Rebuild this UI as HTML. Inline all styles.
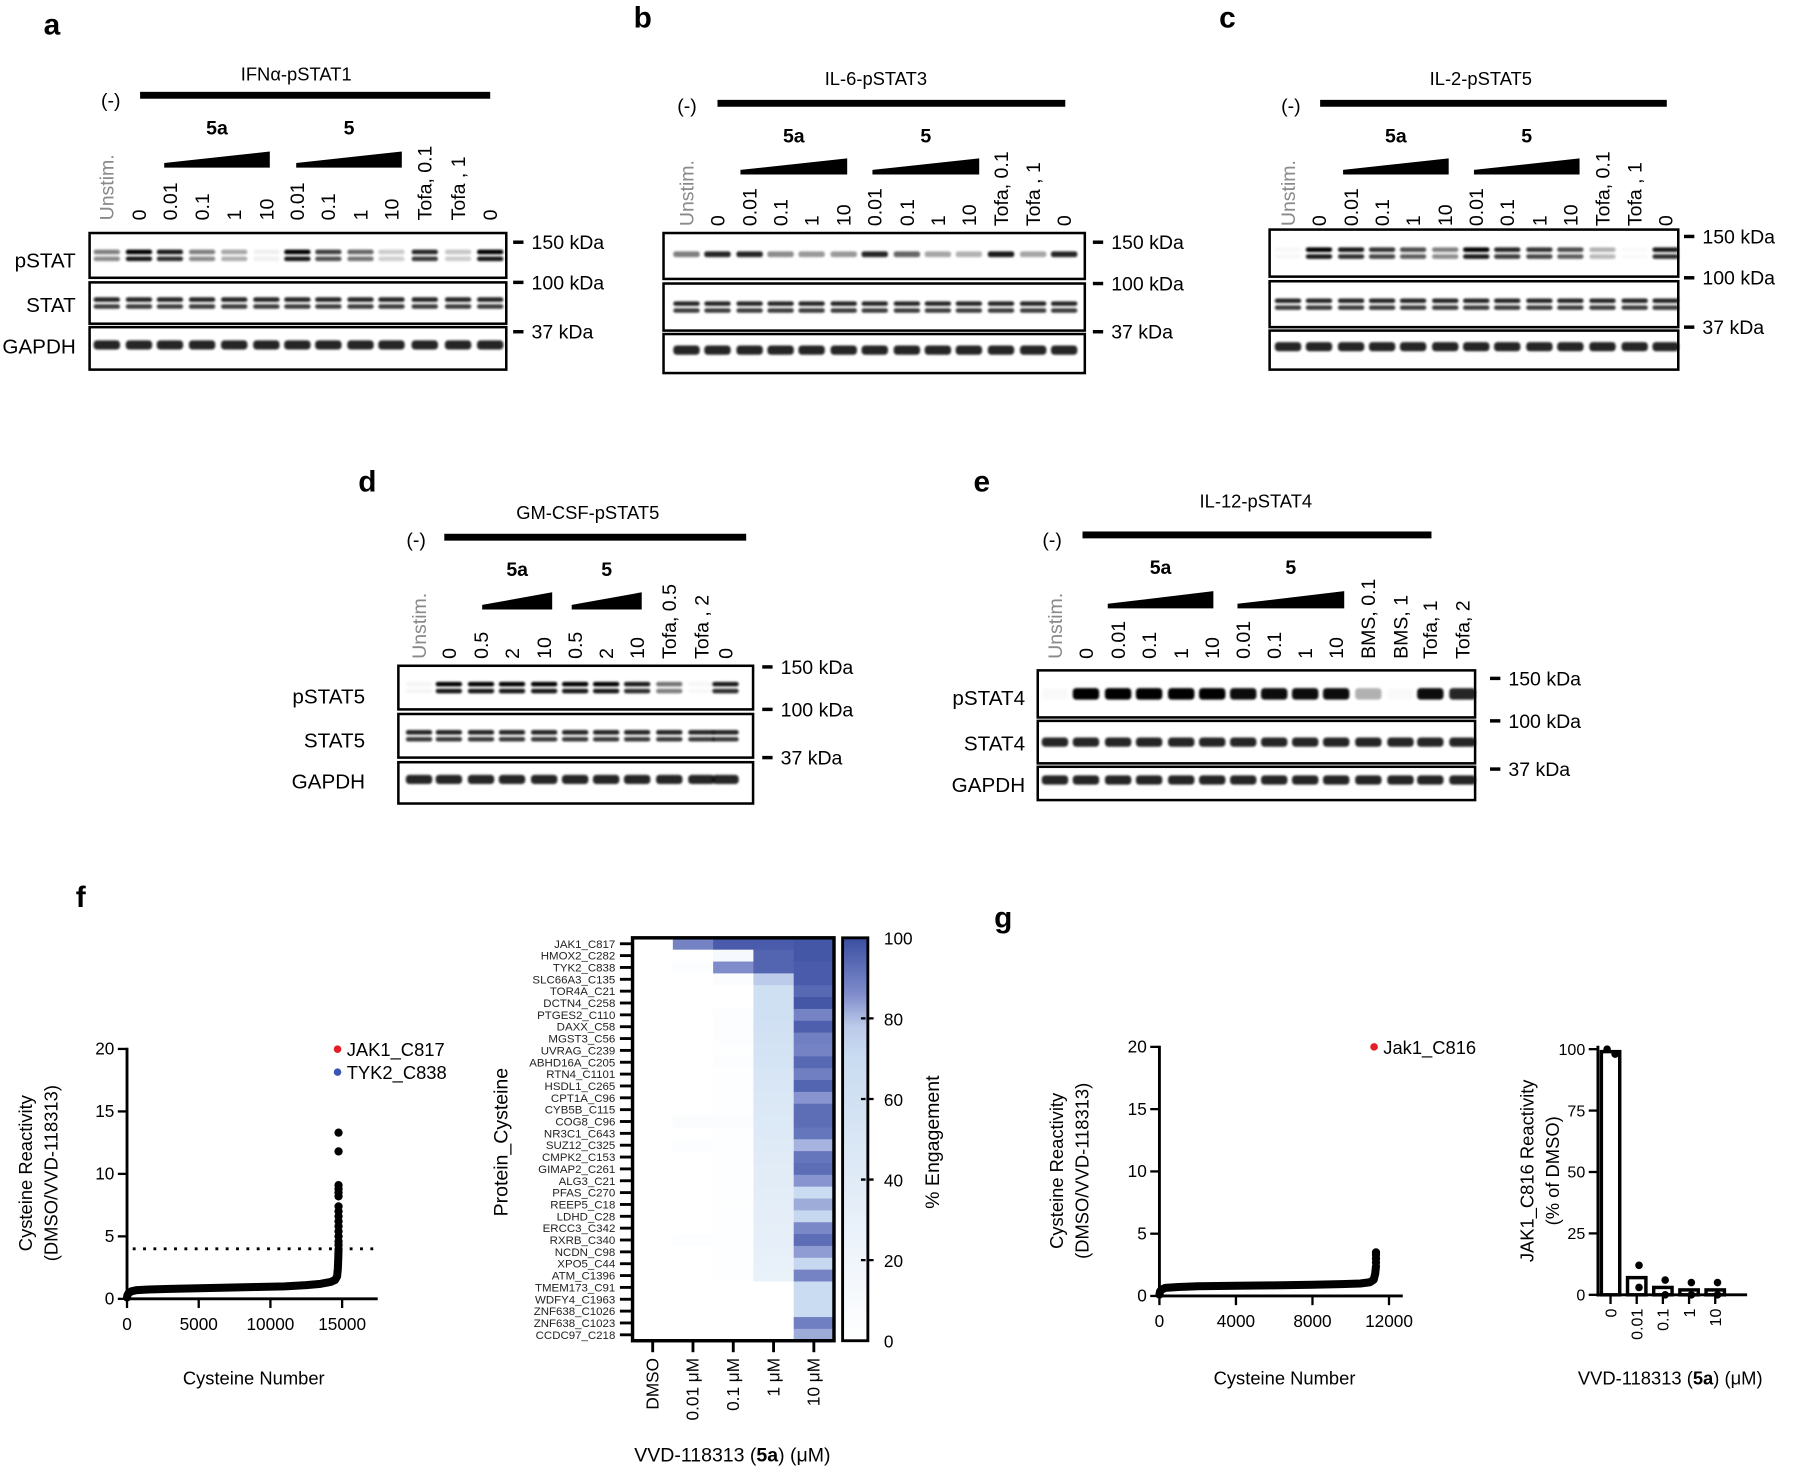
<!DOCTYPE html>
<html><head><meta charset="utf-8"><style>
html,body{margin:0;padding:0;background:#fff;}
svg{display:block;font-family:"Liberation Sans",Arial,sans-serif;}
</style></head><body>
<svg id="fig" width="1800" height="1467" viewBox="0 0 1568 1278" xmlns="http://www.w3.org/2000/svg">
<defs>
<linearGradient id="cbar" x1="0" y1="1" x2="0" y2="0">
<stop offset="0" stop-color="#ffffff"/><stop offset="0.7" stop-color="#c9dcf1"/><stop offset="0.78" stop-color="#bccbe9"/><stop offset="0.86" stop-color="#7f8ccb"/><stop offset="1" stop-color="#3a4ea1"/>
</linearGradient>
<filter id="blur" x="-20%" y="-50%" width="140%" height="200%"><feGaussianBlur stdDeviation="0.9"/></filter>
</defs>
<g id="root"></g>
</svg>
<script>
// ---------- data ----------
const hmRows=["JAK1_C817","HMOX2_C282","TYK2_C838","SLC66A3_C135","TOR4A_C21","DCTN4_C258","PTGES2_C110","DAXX_C58","MGST3_C56","UVRAG_C239","ABHD16A_C205","RTN4_C1101","HSDL1_C265","CPT1A_C96","CYB5B_C115","COG8_C96","NR3C1_C643","SUZ12_C325","CMPK2_C153","GIMAP2_C261","ALG3_C21","PFAS_C270","REEP5_C18","LDHD_C28","ERCC3_C342","RXRB_C340","NCDN_C98","XPO5_C44","ATM_C1396","TMEM173_C91","WDFY4_C1963","ZNF638_C1026","ZNF638_C1023","CCDC97_C218"];
const hmCols=["DMSO","0.01 μM","0.1 μM","1 μM","10 μM"];
const hmDMSO=new Array(34).fill(0);
const hm001=[88,0,5,0,0,0,0,0,0,0,0,0,0,0,0,6,0,5,0,0,0,0,0,0,0,5,0,0,0,0,0,0,0,0];
const hm01=[97,12,86,6,0,0,4,5,5,3,5,2,2,2,2,6,2,2,2,2,2,2,3,2,2,2,2,2,2,0,0,0,0,0];
const hm1=[97,95,95,78,62,62,62,60,58,56,55,52,50,48,46,45,44,42,40,38,38,36,35,34,33,32,31,30,28,0,0,0,0,0];
const hm10=[98,98,97,97,94,98,88,96,89,88,94,89,95,85,93,93,91,81,91,93,85,70,82,72,87,93,84,72,88,70,70,70,89,82];
const cbTicks=[0,20,40,60,80,100];

const fRank=[0,30,100,300,700,1500,3000,5000,7000,9000,11000,12500,13500,14200,14500,14650,14700,14730,14750];
const fVal=[0.1,0.3,0.45,0.6,0.7,0.75,0.8,0.85,0.9,0.95,1.0,1.1,1.2,1.35,1.5,1.8,2.4,3.2,4.0];
const fTail=[4.3,4.6,5.0,5.4,5.8,6.2,6.6,7.0,7.4,8.2,8.5,8.8,9.1,11.8,13.3];
const fXTicks=[0,5000,10000,15000];
const fYTicks=[0,5,10,15,20];
const fThreshold=4;

const gRank=[0,30,100,300,1000,2000,4000,6000,8000,9500,10500,11000,11200,11280,11320];
const gVal=[0.1,0.35,0.5,0.65,0.72,0.78,0.82,0.85,0.9,0.95,1.0,1.1,1.3,1.8,2.4];
const gTail=[2.7,3.0,3.3,3.5];
const gXTicks=[0,4000,8000,12000];
const gYTicks=[0,5,10,15,20];

const barCats=["0","0.01","0.1","1","10"];
const barVals=[99,7,3,2,2];
const barPtsA=[98,12,6,5,5];
const barPtsB=[100,3,0,0,0];
const barYTicks=[0,25,50,75,100];

// ---------- helpers ----------
const NS="http://www.w3.org/2000/svg";
const root=document.getElementById('root');
function el(tag,attrs,parent,txt){const e=document.createElementNS(NS,tag);for(const k in attrs)e.setAttribute(k,attrs[k]);if(txt!==undefined)e.textContent=txt;(parent||root).appendChild(e);return e;}
function txt(x,y,s,size,opts,parent){opts=opts||{};const a={x:x,y:y,'font-size':size,fill:opts.fill||'#000'};if(opts.anchor)a['text-anchor']=opts.anchor;if(opts.weight)a['font-weight']=opts.weight;if(opts.tr)a.transform=opts.tr;const t=el('text',a,parent,s);

return t;}

// ---------- western blots ----------
const blots=[
{letter:'a',lx:38,ly:30,title:'IFNα-pSTAT1',tx:258,ty:70,mx:88,my:93,bar:[122,427,83],w1:[143,235],w2:[258,350],wy:[132,146],c1y:117,
lanes:['Unstim.','0','0.01','0.1','1','10','0.01','0.1','1','10','Tofa, 0.1','Tofa , 1','0'],
lx2:[93,121,148,176,204,232,259,286,314,341,370,399,427],lb:192,
boxes:[[78,441,203,242],[78,441,246,282],[78,441,285,322]],rows:['pSTAT','STAT','GAPDH'],rlx:66,rly:[233,272,308],
mk:[[211,'150 kDa'],[246,'100 kDa'],[289,'37 kDa']],mkx:447,
p:[0.5,1,0.9,0.5,0.35,0.06,1,0.75,0.6,0.2,0.85,0.22,1],style:'doublet'},
{letter:'b',lx:552,ly:24,title:'IL-6-pSTAT3',tx:763,ty:74,mx:590,my:98,bar:[625,928,90],w1:[645,738],w2:[760,853],wy:[138,152],c1y:124,
lanes:['Unstim.','0','0.01','0.1','1','10','0.01','0.1','1','10','Tofa, 0.1','Tofa , 1','0'],
lx2:[598,625,653,680,707,735,762,790,817,844,872,900,927],lb:197,
boxes:[[578,945,203,243],[578,945,247,288],[578,945,291,325]],rows:[],rlx:0,rly:[],
mk:[[211,'150 kDa'],[247,'100 kDa'],[289,'37 kDa']],mkx:952,
p:[0.5,0.85,0.85,0.45,0.4,0.4,0.85,0.6,0.35,0.3,0.9,0.35,0.85],style:'single'},
{letter:'c',lx:1062,ly:24,title:'IL-2-pSTAT5',tx:1290,ty:74,mx:1116,my:98,bar:[1150,1452,90],w1:[1170,1262],w2:[1284,1376],wy:[138,152],c1y:124,
lanes:['Unstim.','0','0.01','0.1','1','10','0.01','0.1','1','10','Tofa, 0.1','Tofa , 1','0'],
lx2:[1122,1149,1177,1204,1231,1259,1286,1313,1341,1368,1396,1424,1451],lb:197,
boxes:[[1106,1462,200,241],[1106,1462,245,285],[1106,1462,288,322]],rows:[],rlx:0,rly:[],
mk:[[206,'150 kDa'],[242,'100 kDa'],[285,'37 kDa']],mkx:1467,
p:[0.03,1,0.9,0.8,0.7,0.5,1,0.85,0.8,0.7,0.3,0.02,0.9],style:'doublet'},
{letter:'d',lx:312,ly:428,title:'GM-CSF-pSTAT5',tx:512,ty:452,mx:354,my:476,bar:[387,650,468],w1:[420,481],w2:[498,559],wy:[516,531],c1y:502,
lanes:['Unstim.','0','0.5','2','10','0.5','2','10','Tofa, 0.5','Tofa , 2','0'],
lx2:[365,391,419,446,474,501,528,555,583,611,632],lb:574,
boxes:[[347,656,580,618],[347,656,622,660],[347,656,664,700]],rows:['pSTAT5','STAT5','GAPDH'],rlx:318,rly:[613,651,687],
mk:[[581,'150 kDa'],[618,'100 kDa'],[660,'37 kDa']],mkx:664,
p:[0.04,1,1,1,1,1,1,0.9,0.55,0.03,0.9],style:'doublet'},
{letter:'e',lx:848,ly:428,title:'IL-12-pSTAT4',tx:1094,ty:442,mx:908,my:476,bar:[943,1247,466],w1:[965,1057],w2:[1078,1171],wy:[515,530],c1y:500,
lanes:['Unstim.','0','0.01','0.1','1','10','0.01','0.1','1','10','BMS, 0.1','BMS, 1','Tofa, 1','Tofa, 2'],
lx2:[919,946,974,1001,1029,1056,1083,1110,1137,1164,1192,1220,1246,1274],lb:574,
boxes:[[904,1285,584,625],[904,1285,628,665],[904,1285,668,697]],rows:['pSTAT4','STAT4','GAPDH'],rlx:893,rly:[614,654,690],
mk:[[591,'150 kDa'],[628,'100 kDa'],[670,'37 kDa']],mkx:1298,
p:[0.02,1,1,1,1,1,0.95,0.95,0.95,0.95,0.3,0.02,0.95,0.85],style:'thick'}
];
blots.forEach(b=>{
  const g=el('g',{});
  
  
  txt(b.lx,b.ly,b.letter,26,{weight:'bold',name:'panel-letter'},g);
  txt(b.tx,b.ty,b.title,16,{anchor:'middle',name:'blot-title'},g);
  txt(b.mx,b.my,'(-)',17,{name:'unstim-marker'},g);
  const bar=el('rect',{x:b.bar[0],y:b.bar[2]-3,width:b.bar[1]-b.bar[0],height:6,fill:'#000'},g);
  
  
  [[b.w1,'5a'],[b.w2,'5']].forEach(([w,n])=>{
    const p=el('polygon',{points:`${w[0]},${b.wy[1]-4} ${w[1]},${b.wy[0]} ${w[1]},${b.wy[1]} ${w[0]},${b.wy[1]}`,fill:'#000'},g);
    
    
    txt((w[0]+w[1])/2,b.c1y,n,17,{anchor:'middle',weight:'bold',name:'compound-label'},g);
  });
  b.lanes.forEach((l,i)=>{
    txt(0,0,l,17,{fill:i===0?'#8a8a8a':'#000',tr:`translate(${b.lx2[i]+6},${b.lb}) rotate(-90)`,name:'lane-label'},g);
  });
  b.boxes.forEach((bx,r)=>{
    const rr=el('rect',{x:bx[0],y:bx[2],width:bx[1]-bx[0],height:bx[3]-bx[2],fill:'#fff',stroke:'#000','stroke-width':2.2},g);
    
    
    const cy=(bx[2]+bx[3])/2;
    b.lx2.forEach((x,i)=>{
      const inten=r===0?b.p[i]:0.85;
      const w=23;
      if(r===2||(r===0&&b.style==='thick')||(r===1&&b.style==='thick')){
        el('rect',{x:x-w/2,y:cy-(r===0?5:4)-(r===2?3:0),width:w,height:r===0?10:8,rx:3,fill:'#000',opacity:inten,filter:'url(#blur)'},g);
      } else if(r===0&&b.style==='single'){
        el('rect',{x:x-w/2,y:cy-4,width:w,height:5,rx:2,fill:'#000',opacity:inten,filter:'url(#blur)'},g);
      } else {
        el('rect',{x:x-w/2,y:cy-5,width:w,height:4,rx:2,fill:'#000',opacity:inten,filter:'url(#blur)'},g);
        el('rect',{x:x-w/2,y:cy+1,width:w,height:4,rx:2,fill:'#000',opacity:inten*0.9,filter:'url(#blur)'},g);
      }
    });
  });
  b.rows.forEach((s,i)=>txt(b.rlx,b.rly[i],s,18,{anchor:'end',name:'row-label'},g));
  b.mk.forEach(m=>{
    el('rect',{x:b.mkx,y:m[0]-1.5,width:9,height:3,fill:'#000'},g);
    txt(b.mkx+16,m[0]+6,m[1],17,{name:'mw-marker'},g);
  });
});

// ---------- scatter ----------
function scatter(cfg){
  const g=el('g',{});
  
  
  const X=v=>cfg.x0+(v/cfg.xmax)*(cfg.x1-cfg.x0);
  const Y=v=>cfg.y0-(v/20)*(cfg.y0-cfg.y1);
  el('line',{x1:cfg.x0,y1:cfg.y0+1.5,x2:cfg.x0,y2:cfg.y1-1,stroke:'#000','stroke-width':2.5},g);
  el('line',{x1:cfg.x0-1,y1:cfg.y0,x2:cfg.xend,y2:cfg.y0,stroke:'#000','stroke-width':2.5},g);
  cfg.yt.forEach(t=>{el('line',{x1:cfg.x0-8,y1:Y(t),x2:cfg.x0,y2:Y(t),stroke:'#000','stroke-width':2},g);txt(cfg.x0-11,Y(t)+5,String(t),15,{anchor:'end',name:'y-tick-label'},g);});
  cfg.xt.forEach(t=>{el('line',{x1:X(t),y1:cfg.y0,x2:X(t),y2:cfg.y0+8,stroke:'#000','stroke-width':2},g);txt(X(t),cfg.y0+27,String(t),15,{anchor:'middle',name:'x-tick-label'},g);});
  if(cfg.thr!==undefined){const l=el('line',{x1:cfg.x0+5,y1:Y(cfg.thr),x2:cfg.xend,y2:Y(cfg.thr),stroke:'#000','stroke-width':2.5,'stroke-dasharray':'2.5 6.5'},g);}
  const pts=cfg.rank.map((r,i)=>X(r)+','+Y(cfg.val[i])).join(' ');
  const pl=el('polyline',{points:pts,fill:'none',stroke:'#000','stroke-width':7,'stroke-linejoin':'round','stroke-linecap':'round'},g);
  
  
  const lastX=X(cfg.rank[cfg.rank.length-1]);
  cfg.tail.forEach(v=>{const c=el('circle',{cx:lastX,cy:Y(v),r:3.6,fill:'#000'},g);});
  cfg.legend.forEach((lg,i)=>{
    el('circle',{cx:cfg.lgx,cy:cfg.lgy+i*20,r:3.3,fill:lg[1]},g);
    txt(cfg.lgx+8,cfg.lgy+i*20+6,lg[0],16,{name:'legend-entry'},g);
  });
  txt(0,0,'Cysteine Reactivity',16,{anchor:'middle',tr:`translate(${cfg.ytx},${cfg.yty}) rotate(-90)`,name:'y-axis-title'},g);
  txt(0,0,'(DMSO/VVD-118313)',16,{anchor:'middle',tr:`translate(${cfg.ytx+22},${cfg.yty}) rotate(-90)`,name:'y-axis-title'},g);
  txt(cfg.xtx,1206,'Cysteine Number',16,{anchor:'middle',name:'x-axis-title'},g);
}
txt(66,790,'f',26,{weight:'bold',name:'panel-letter'});
scatter({name:'scatter-f',x0:110.6,x1:298,xmax:15000,xend:329,y0:1131.5,y1:913.8,yt:fYTicks,xt:fXTicks,thr:fThreshold,rank:fRank,val:fVal,tail:fTail,legend:[['JAK1_C817','#e41e26'],['TYK2_C838','#3a55b4']],lgx:294,lgy:914,ytx:28,yty:1022,xtx:221});
txt(866,808,'g',26,{weight:'bold',name:'panel-letter'});
scatter({name:'scatter-g',x0:1010,x1:1210,xmax:12000,xend:1222,y0:1129,y1:912,yt:gYTicks,xt:gXTicks,rank:gRank,val:gVal,tail:gTail,legend:[['Jak1_C816','#e41e26']],lgx:1197,lgy:912,ytx:926,yty:1020,xtx:1119});

// ---------- heatmap ----------
(function(){
  const g=el('g',{});
  
  
  const L=551,R=726.5,T=817,B=1168;
  const cw=(R-L)/hmCols.length, rh=(B-T)/hmRows.length;
  const stops=[[0,[255,255,255]],[70,[201,220,241]],[78,[188,203,233]],[86,[127,140,203]],[100,[58,78,161]]];
  function col(v){for(let i=1;i<stops.length;i++){if(v<=stops[i][0]){const a=stops[i-1],b=stops[i];const t=(v-a[0])/(b[0]-a[0]);return 'rgb('+a[1].map((c,k)=>Math.round(c+(b[1][k]-c)*t)).join(',')+')';}}return 'rgb(58,78,161)';}
  const cols=[hmDMSO,hm001,hm01,hm1,hm10];
  cols.forEach((arr,ci)=>arr.forEach((v,ri)=>{
    const c=el('rect',{x:L+ci*cw,y:T+ri*rh,width:cw+0.4,height:rh+0.4,fill:col(v)},g);
    
    
  }));
  el('rect',{x:L,y:T,width:R-L,height:B-T,fill:'none',stroke:'#000','stroke-width':3},g);
  hmRows.forEach((n,i)=>{
    const y=T+(i+0.5)*rh;
    el('line',{x1:540,y1:y,x2:L,y2:y,stroke:'#000','stroke-width':2.5},g);
    txt(536,y+3.5,n,10,{anchor:'end',fill:'#222',name:'row-label'},g);
  });
  hmCols.forEach((n,i)=>{
    const x=L+(i+0.5)*cw;
    el('line',{x1:x,y1:B,x2:x,y2:B+10,stroke:'#000','stroke-width':2.5},g);
    txt(0,0,n,15,{anchor:'end',tr:`translate(${x+5},${B+15}) rotate(-90)`,name:'x-tick-label'},g);
  });
  txt(0,0,'Protein_Cysteine',17,{anchor:'middle',tr:`translate(442,995) rotate(-90)`,name:'y-axis-title'},g);
  txt(638,1273,'',17,{anchor:'middle',name:'x-axis-title'},g).innerHTML='VVD-118313 (<tspan font-weight="bold">5a</tspan>) (μM)';
  const cb=el('rect',{x:734,y:T,width:22,height:B-T,fill:'url(#cbar)',stroke:'#000','stroke-width':2.5},g);
  
  
  cbTicks.forEach(t=>{
    const y=B-(t/100)*(B-T);
    if(t>0&&t<100){el('line',{x1:750,y1:y,x2:762,y2:y,stroke:'#000','stroke-width':2,'stroke-dasharray':'4 3'},g);}
    txt(770,y+6,String(t),15,{name:'colorbar-tick-label'},g);
  });
  txt(0,0,'% Engagement',17,{anchor:'middle',tr:`translate(818,995) rotate(-90)`,name:'colorbar-title'},g);
})();

// ---------- bar chart ----------
(function(){
  const g=el('g',{});
  
  
  const x0=1392,xend=1522,y0=1128,y1=914;
  const Y=v=>y0-(v/100)*(y0-y1);
  const xc=i=>1403+i*22.8;
  barVals.forEach((v,i)=>{
    const b=el('rect',{x:xc(i)-8,y:Y(v),width:16,height:y0-Y(v),fill:'#fff',stroke:'#000','stroke-width':3},g);
    
    
  });
  [barPtsA,barPtsB].forEach(arr=>arr.forEach((v,i)=>{
    const c=el('circle',{cx:xc(i)+(arr===barPtsA?4:-3)*(i===0?1:0)+(i===0?0:2),cy:Y(v),r:3.3,fill:'#000'},g);
    
    
  }));
  el('line',{x1:x0,y1:y0+1.5,x2:x0,y2:y1-3,stroke:'#000','stroke-width':2.5},g);
  el('line',{x1:x0-1,y1:y0,x2:xend,y2:y0,stroke:'#000','stroke-width':2.5},g);
  barYTicks.forEach(t=>{el('line',{x1:x0-8,y1:Y(t),x2:x0,y2:Y(t),stroke:'#000','stroke-width':2},g);txt(x0-11,Y(t)+5,String(t),14,{anchor:'end',name:'y-tick-label'},g);});
  barCats.forEach((c,i)=>{el('line',{x1:xc(i),y1:y0,x2:xc(i),y2:y0+8,stroke:'#000','stroke-width':2},g);txt(0,0,c,14,{anchor:'end',tr:`translate(${xc(i)+5},${y0+12}) rotate(-90)`,name:'x-tick-label'},g);});
  txt(0,0,'JAK1_C816 Reactivity',16,{anchor:'middle',tr:`translate(1336,1020) rotate(-90)`,name:'y-axis-title'},g);
  txt(0,0,'(% of DMSO)',16,{anchor:'middle',tr:`translate(1358,1020) rotate(-90)`,name:'y-axis-title'},g);
  txt(1455,1206,'',16,{anchor:'middle',name:'x-axis-title'},g).innerHTML='VVD-118313 (<tspan font-weight="bold">5a</tspan>) (μM)';
})();
</script>
</body></html>
